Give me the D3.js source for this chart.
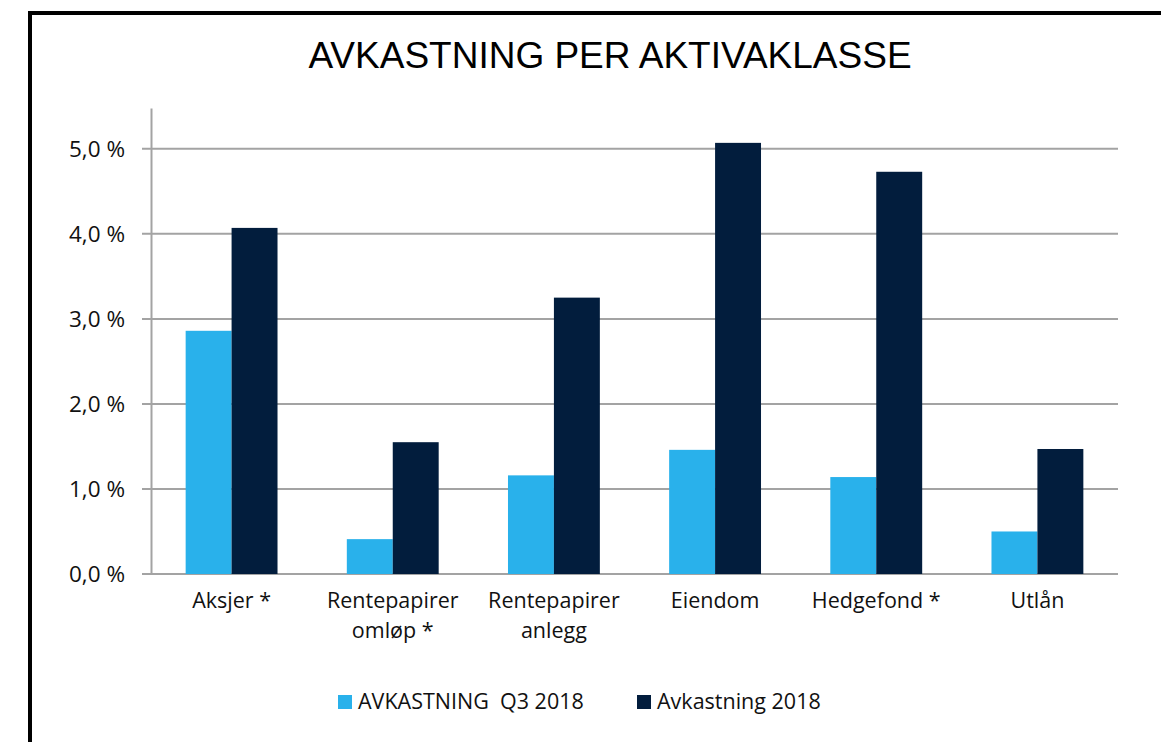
<!DOCTYPE html>
<html>
<head>
<meta charset="utf-8">
<script src="https://cdn.jsdelivr.net/npm/d3@7"></script>
<style>
  body { margin: 0; background: #fff; }
  svg { display: block; }
</style>
</head>
<body>
<script>
// data
const categories = ["Aksjer *", "Rentepapirer omløp *", "Rentepapirer anlegg", "Eiendom", "Hedgefond *", "Utlån"];
const categoryLines = [["Aksjer *"], ["Rentepapirer", "omløp *"], ["Rentepapirer", "anlegg"], ["Eiendom"], ["Hedgefond *"], ["Utlån"]];
const seriesNames = ["AVKASTNING  Q3 2018", "Avkastning 2018"];
const q3Values = [2.86, 0.41, 1.16, 1.46, 1.14, 0.50];
const yearValues = [4.07, 1.55, 3.25, 5.07, 4.73, 1.47];
const yTicks = [0, 1, 2, 3, 4, 5];
const colors = ["#29b1eb", "#021d3d"];

const W = 1161, H = 742;
const margin = { top: 108, right: 43, bottom: 168, left: 151 };
const width = W - margin.left - margin.right;
const height = H - margin.top - margin.bottom;

const font = "'Open Sans', sans-serif";

const svg = d3.select("body").append("svg")
    .attr("width", W)
    .attr("height", H);

// frame (only left + top visible, the rest is cropped)
svg.append("path")
    .attr("d", `M30,${H + 5} L30,13 L${W + 5},13`)
    .attr("fill", "none")
    .attr("stroke", "#000")
    .attr("stroke-width", 4);

svg.append("text")
    .attr("x", 610)
    .attr("y", 68)
    .attr("text-anchor", "middle")
    .style("font-family", "'Liberation Sans', Arial, sans-serif")
    .style("font-size", "37px")
    .text("AVKASTNING PER AKTIVAKLASSE");

const g = svg.append("g")
    .attr("transform", `translate(${margin.left},${margin.top})`);

const x = d3.scaleBand()
    .domain(categories)
    .range([0, width])
    .paddingInner(0.43)
    .paddingOuter(0.215);

const x1 = d3.scaleBand()
    .domain(seriesNames)
    .range([0, x.bandwidth()]);

const y = d3.scaleLinear()
    .domain([0, 5.48])
    .range([height, 0]);

// gridlines
g.append("g")
    .selectAll("line")
    .data(yTicks)
    .join("line")
    .attr("x1", -9)
    .attr("x2", width)
    .attr("y1", d => y(d))
    .attr("y2", d => y(d))
    .attr("stroke", "#a3a3a3")
    .attr("stroke-width", 2);

// y axis
const yAxis = g.append("g")
    .call(d3.axisLeft(y).tickValues(yTicks).tickSize(0).tickPadding(26)
        .tickFormat(d => d3.format(".1f")(d).replace(".", ",") + " %"));
yAxis.select(".domain").attr("stroke", "#a3a3a3").attr("stroke-width", 2);
yAxis.selectAll("text")
    .style("font-family", font)
    .style("font-size", "22.5px")
    .attr("fill", "#111");

// bars
const groups = g.selectAll(".cat")
    .data(categories)
    .join("g")
    .attr("transform", d => `translate(${x(d)},0)`);

groups.selectAll("rect")
    .data((d, i) => [q3Values[i], yearValues[i]].map((v, k) => ({ key: seriesNames[k], v })))
    .join("rect")
    .attr("x", d => x1(d.key))
    .attr("y", d => y(d.v))
    .attr("width", x1.bandwidth())
    .attr("height", d => height - y(d.v))
    .attr("fill", (d, k) => colors[k]);

// x axis labels
const xLabels = g.append("g")
    .selectAll("text")
    .data(categories)
    .join("text")
    .attr("x", d => x(d) + x.bandwidth() / 2)
    .attr("y", height + 34)
    .attr("text-anchor", "middle")
    .style("font-family", font)
    .style("font-size", "21.5px")
    .attr("fill", "#111");

xLabels.selectAll("tspan")
    .data((d, i) => categoryLines[i])
    .join("tspan")
    .attr("x", function () { return this.parentNode.getAttribute("x"); })
    .attr("dy", (d, i) => i === 0 ? 0 : 30)
    .text(d => d);

// legend
const legendX = [338, 637];
const legend = svg.append("g")
    .selectAll("g")
    .data(seriesNames)
    .join("g")
    .attr("transform", (d, i) => `translate(${legendX[i]},695)`);

legend.append("rect")
    .attr("width", 14)
    .attr("height", 14)
    .attr("fill", (d, i) => colors[i]);

legend.append("text")
    .attr("x", 20)
    .attr("y", 14)
    .style("font-family", font)
    .style("font-size", "21.5px")
    .style("white-space", "pre")
    .attr("fill", "#111")
    .text(d => d);
</script>
</body>
</html>
